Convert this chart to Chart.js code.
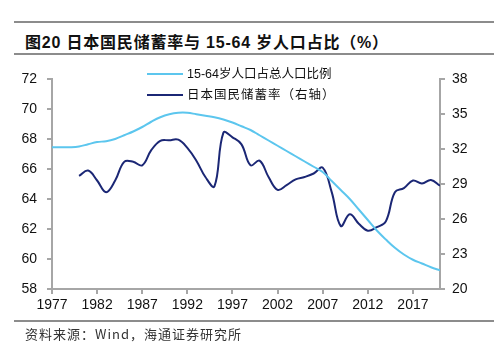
<!DOCTYPE html>
<html>
<head>
<meta charset="utf-8">
<script src="https://cdn.jsdelivr.net/npm/chart.js@4"></script>
<style>
  body { margin: 0; background: #fff; }
  #wrap { position: relative; width: 500px; height: 353px; overflow: hidden; }
  #myChart { position: absolute; left: 0; top: 0; }
  .rule { position: absolute; left: 14px; width: 480px; height: 2px; background: #8c8c8c; }
  #title { position: absolute; left: 25px; top: 29px; font: bold 16px "Liberation Sans", "Noto Sans CJK SC", sans-serif; letter-spacing: 0.8px; color: #111; white-space: nowrap; }
  #source { position: absolute; left: 25px; top: 324px; font: 13px "Noto Sans CJK SC", sans-serif; letter-spacing: 1px; color: #333; white-space: nowrap; }
  .leg { position: absolute; left: 147px; font: 12.5px "Liberation Sans", "Noto Sans CJK SC", sans-serif; color: #111; white-space: nowrap; }
  .leg i { display: inline-block; width: 36px; height: 2px; vertical-align: middle; margin-right: 4px; position: relative; top: -1px; }
</style>
</head>
<body>
<div id="wrap">
  <div class="rule" style="top:21px"></div>
  <div id="title">图20 日本国民储蓄率与 15-64 岁人口占比（%）</div>
  <div class="rule" style="top:53px"></div>
  <canvas id="myChart" width="500" height="353"></canvas>
  <div class="leg" style="top:63px"><i style="background:#5cc6ee"></i>15-64岁人口占总人口比例</div>
  <div class="leg" style="top:84px;letter-spacing:1px"><i style="background:#1b2775"></i>日本国民储蓄率（右轴）</div>
  <div class="rule" style="top:320px"></div>
  <div id="source">资料来源：Wind，海通证券研究所</div>
</div>
<script>
// years and values
var popYears = [];
for (let y = 1977; y <= 2020; y++) popYears.push(y);
var popShare = [67.45, 67.45, 67.45, 67.5, 67.65, 67.8, 67.85, 68.0, 68.25, 68.5,
    68.8, 69.15, 69.45, 69.65, 69.75, 69.75, 69.65, 69.55, 69.45, 69.3,
    69.1, 68.85, 68.6, 68.25, 67.9, 67.55, 67.2, 66.85, 66.5, 66.15,
    65.8, 65.2, 64.6, 64.0, 63.3, 62.6, 61.9, 61.3, 60.75, 60.3,
    59.95, 59.7, 59.45, 59.25];

var saveYears = [];
for (let y = 1980; y <= 2020; y++) saveYears.push(y);
var saveRate = [29.7, 30.15, 29.3, 28.3, 29.3, 30.9, 30.9, 30.6, 31.9, 32.7,
    32.75, 32.8, 32.1, 31.0, 29.6, 28.8, 33.4, 33.0, 32.4, 30.6,
    31.0, 29.6, 28.5, 28.9, 29.4, 29.6, 29.9, 30.4, 28.3, 25.4,
    26.4, 25.6, 25.0, 25.3, 25.8, 28.3, 28.65, 29.3, 29.05, 29.35,
    28.85];

var xTicks = [1977, 1982, 1987, 1992, 1997, 2002, 2007, 2012, 2017];

function toPoints(xs, ys) {
    return xs.map((x, i) => ({ x: x, y: ys[i] }));
}

var axisColor = '#a6a6a6';
var tickFont = { family: 'Liberation Sans', size: 14 };

function init() {
    let data = {
        datasets: [{
            label: '15-64岁人口占总人口比例',
            borderColor: '#5cc6ee',
            borderWidth: 2,
            data: toPoints(popYears, popShare),
            yAxisID: 'y',
            pointRadius: 0,
            tension: 0.4
        }, {
            label: '日本国民储蓄率（右轴）',
            borderColor: '#1b2775',
            borderWidth: 2,
            data: toPoints(saveYears, saveRate),
            yAxisID: 'y1',
            pointRadius: 0,
            tension: 0.4
        }]
    };

    let config = {
        type: 'line',
        data,
        options: {
            responsive: false,
            animation: false,
            layout: { padding: { top: 79, left: 0, right: 0, bottom: 0 } },
            plugins: { legend: { display: false }, tooltip: { enabled: false } },
            scales: {
                x: {
                    type: 'linear',
                    min: 1977,
                    max: 2020,
                    afterBuildTicks: s => { s.ticks = xTicks.map(v => ({ value: v })); },
                    afterFit: s => { s.height = 64; },
                    border: { color: axisColor, width: 2 },
                    grid: { drawOnChartArea: false, tickLength: 5, color: axisColor, lineWidth: 2 },
                    ticks: { color: '#111', font: tickFont, padding: 3, maxRotation: 0, callback: v => String(v) }
                },
                y: {
                    position: 'left',
                    min: 58,
                    max: 72,
                    afterFit: s => { s.width = 52; },
                    border: { color: axisColor, width: 2 },
                    grid: { drawOnChartArea: false, tickLength: 5, color: axisColor, lineWidth: 2 },
                    ticks: { stepSize: 2, color: '#111', font: tickFont, padding: 10 }
                },
                y1: {
                    position: 'right',
                    min: 20,
                    max: 38,
                    afterFit: s => { s.width = 60; },
                    border: { color: axisColor, width: 2 },
                    grid: { drawOnChartArea: false, tickLength: 5, color: axisColor, lineWidth: 2 },
                    ticks: { stepSize: 3, color: '#111', font: tickFont, padding: 7 }
                }
            }
        }
    };

    myChart = new Chart(document.getElementById('myChart'), config);
}

init();
</script>
</body>
</html>
